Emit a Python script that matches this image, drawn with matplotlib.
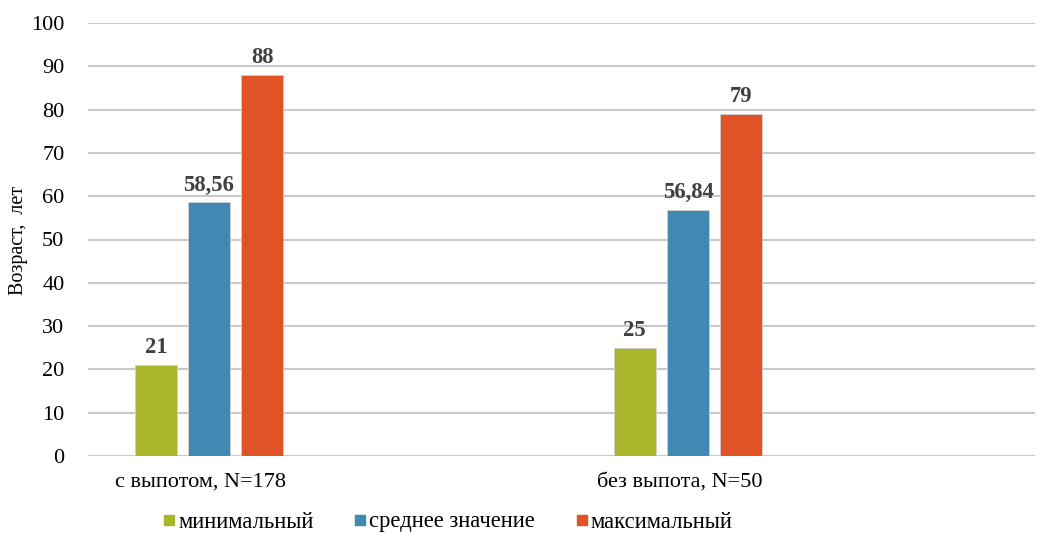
import numpy as np
import matplotlib.pyplot as plt
from matplotlib.lines import Line2D

plt.rcParams["font.family"] = ["Liberation Serif", "DejaVu Serif"]

# Age statistics by group
groups = ["с выпотом, N=178", "без выпота, N=50"]
series = ["минимальный", "среднее значение", "максимальный"]
min_age = [21, 25]
mean_age = [58.56, 56.84]
max_age = [88, 79]
colors = ["#A8B72A", "#4189B3", "#E05327"]

fig = plt.figure(figsize=(10.37, 5.33), dpi=100)
ax = fig.add_axes([88 / 1037, 1 - 456 / 533, (1035 - 88) / 1037, (456 - 23) / 533])

x = np.arange(len(groups))
width = 0.087
step = 0.111

for i, (vals, c) in enumerate(zip([min_age, mean_age, max_age], colors)):
    pos = x + (i - 1) * step
    bars = ax.bar(pos, vals, width, color=c, edgecolor="#d0d0d0", linewidth=0.6, zorder=3)
    for b, v in zip(bars, vals):
        lbl = f"{v:g}".replace(".", ",")
        ax.text(b.get_x() + b.get_width() / 2, v + 1.6, lbl, ha="center", va="bottom",
                fontsize=16.3, fontweight="bold", color="#404040")

ax.set_xlim(-0.2526, 1.7244)
ax.set_ylim(0, 100)
ax.set_yticks(np.arange(0, 101, 10))
ax.set_xticks(x - 0.018)
ax.set_xticklabels(groups)
ax.tick_params(axis="y", length=0, pad=17, labelsize=16)
ax.tick_params(axis="x", length=0, pad=12, labelsize=16)
ax.yaxis.grid(True, color="#c9c9c9", linewidth=1.5, zorder=0)
for s in ax.spines.values():
    s.set_visible(False)
fig.text(19 / 1037, 1 - 240 / 533, "Возраст,  лет", rotation=90, ha="center", va="center",
         fontsize=14.5)

# Legend below the chart
handles = [Line2D([], [], marker="s", linestyle="none", markersize=7.5, color=c) for c in colors]
fig.legend(handles, series, loc="center", bbox_to_anchor=(447 / 1037, 1 - 522 / 533),
           ncol=3, frameon=False, fontsize=16.3, handletextpad=0.05, columnspacing=1.7,
           handlelength=0.7)

fig.savefig("out.png", dpi=100)
